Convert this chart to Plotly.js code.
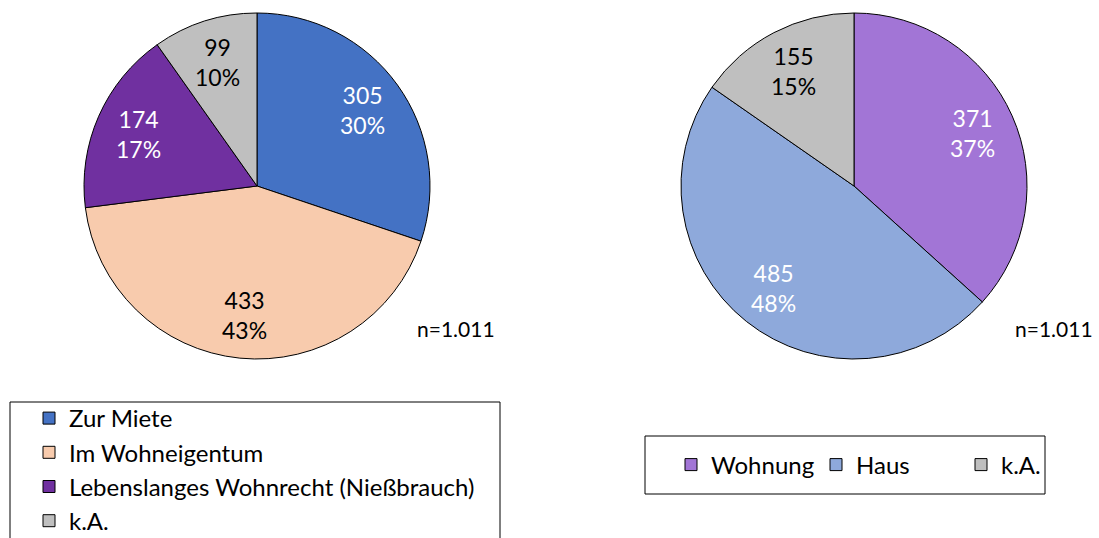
<!DOCTYPE html>
<html><head><meta charset="utf-8">
<script src="https://cdn.plot.ly/plotly-3.0.1.min.js"></script>
<style>html,body{margin:0;padding:0;background:#fff;overflow:hidden;}#chart{width:1099px;height:538px;}</style>
</head><body><div id="chart"></div>
<script>
const leftLabels = ['Zur Miete', 'Im Wohneigentum', 'Lebenslanges Wohnrecht (Nießbrauch)', 'k.A.'];
const leftValues = [305, 433, 174, 99];
const leftColors = ['#4472C4', '#F8CBAD', '#7030A0', '#BFBFBF'];
const leftTextColors = ['#FFFFFF', '#000000', '#FFFFFF', '#000000'];

// zero-width space keeps the right "k.A." entry separate from the left one in Plotly's label registry
const rightLabels = ['Wohnung', 'Haus', 'k.A.\u200B'];
const rightValues = [371, 485, 155];
const rightColors = ['#A275D6', '#8EA9DB', '#BFBFBF'];
const rightTextColors = ['#FFFFFF', '#FFFFFF', '#000000'];

const sampleNote = 'n=1.011';

const W = 1099, H = 538;
const FONT = 'Lato, "Open Sans", sans-serif';
const FS_LEGEND = 24;
const FS_LABEL = 23;
const FS_NOTE = 21;

// pie geometry (pixels)
const R = 173, CY = 186;
const leftCX = 257, rightCX = 854;
const labelRadius = 0.75;

function dom(cx) {
  return {x: [(cx - R) / W, (cx + R) / W], y: [(H - CY - R) / H, (H - CY + R) / H]};
}

function sliceLabels(values, textColors, cx) {
  const total = values.reduce((a, b) => a + b, 0);
  let cum = 0;
  return values.map((v, i) => {
    const theta = 2 * Math.PI * (cum + v / 2) / total;
    cum += v;
    const px = cx + labelRadius * R * Math.sin(theta);
    const py = CY - labelRadius * R * Math.cos(theta);
    return {
      text: v + '<br>' + Math.round(v / total * 100) + '%',
      xref: 'paper', yref: 'paper', x: px / W, y: 1 - py / H,
      xanchor: 'center', yanchor: 'middle', showarrow: false, align: 'center',
      font: {size: FS_LABEL, family: FONT, color: textColors[i]}
    };
  });
}

const traces = [
  {
    type: 'pie', labels: leftLabels, values: leftValues, sort: false,
    direction: 'clockwise', rotation: 0,
    marker: {colors: leftColors, line: {color: '#000000', width: 1}},
    textinfo: 'none', hoverinfo: 'none',
    domain: dom(leftCX),
    legend: 'legend'
  },
  {
    type: 'pie', labels: rightLabels, values: rightValues, sort: false,
    direction: 'clockwise', rotation: 0,
    marker: {colors: rightColors, line: {color: '#000000', width: 1}},
    textinfo: 'none', hoverinfo: 'none',
    domain: dom(rightCX),
    legend: 'legend2'
  }
];

const layout = {
  width: W, height: H,
  margin: {l: 0, r: 0, t: 0, b: 0, pad: 0, autoexpand: false},
  paper_bgcolor: '#FFFFFF',
  font: {family: FONT, size: FS_LEGEND, color: '#000000'},
  showlegend: true,
  legend: {
    x: 29 / W, xanchor: 'left', y: (H - 396) / H, yanchor: 'top',
    orientation: 'v', bgcolor: 'rgba(0,0,0,0)', borderwidth: 0,
    font: {family: FONT, size: FS_LEGEND, color: '#000000'}, traceorder: 'normal'
  },
  legend2: {
    x: 671 / W, xanchor: 'left', y: (H - 465) / H, yanchor: 'middle',
    orientation: 'h', bgcolor: 'rgba(0,0,0,0)', borderwidth: 0,
    entrywidth: 100, entrywidthmode: 'pixels',
    font: {family: FONT, size: FS_LEGEND, color: '#000000'}
  },
  shapes: [
    {type: 'rect', xref: 'paper', yref: 'paper', x0: 10 / W, x1: 500 / W, y0: -20 / H, y1: (H - 402) / H,
     line: {color: '#000000', width: 1}, fillcolor: 'rgba(0,0,0,0)', layer: 'below'},
    {type: 'rect', xref: 'paper', yref: 'paper', x0: 645 / W, x1: 1045 / W, y0: (H - 494) / H, y1: (H - 436) / H,
     line: {color: '#000000', width: 1}, fillcolor: 'rgba(0,0,0,0)', layer: 'below'}
  ],
  annotations: [
    ...sliceLabels(leftValues, leftTextColors, leftCX),
    ...sliceLabels(rightValues, rightTextColors, rightCX),
    {text: sampleNote, xref: 'paper', yref: 'paper', x: 456 / W, y: (H - 328) / H, xanchor: 'center', yanchor: 'middle', showarrow: false, font: {size: FS_NOTE, family: FONT}},
    {text: sampleNote, xref: 'paper', yref: 'paper', x: 1054 / W, y: (H - 328) / H, xanchor: 'center', yanchor: 'middle', showarrow: false, font: {size: FS_NOTE, family: FONT}}
  ]
};

Plotly.newPlot('chart', traces, layout, {displayModeBar: false, staticPlot: true});
</script></body></html>
